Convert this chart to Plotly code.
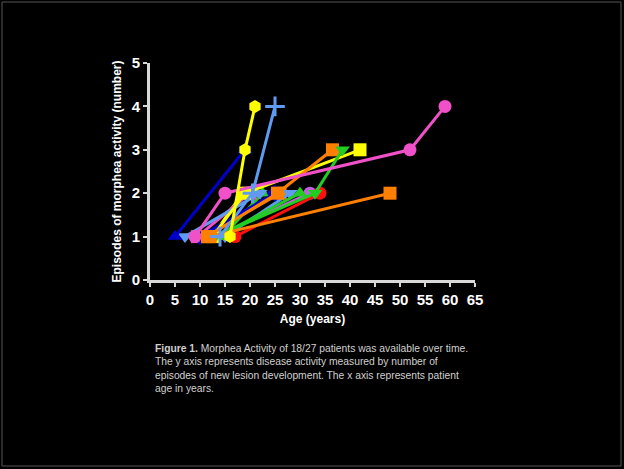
import plotly.graph_objects as go

# Patient series: age (years) vs episodes of morphea activity
series_names = [f"Patient {i}" for i in range(1, 19)]
ages = [
    [16, 19, 21],
    [14, 20.5, 25],
    [9, 15, 52, 59],
    [12, 48],
    [11.5, 25.5, 36.5],
    [12.5, 19, 42],
    [13, 33, 38.5],
    [17, 34],
    [13.5, 30],
    [10, 25],
    [5, 19],
    [7, 22],
    [9.5, 20],
    [14.5, 22.5],
    [13, 32],
    [12.5, 18.5],
    [15, 28],
    [11, 26],
]
episodes = [
    [1, 3, 4],
    [1, 2, 4],
    [1, 2, 3, 4],
    [1, 2],
    [1, 2, 3],
    [1, 2, 3],
    [1, 2, 3],
    [1, 2],
    [1, 2],
    [1, 2],
    [1, 3],
    [1, 2],
    [1, 2],
    [1, 2],
    [1, 2],
    [1, 2],
    [1, 2],
    [1, 2],
]
colors = [
    "#FFFF00", "#5F9BF0", "#F050C8", "#FF7F00", "#FF7F00", "#FFFF00",
    "#22CC22", "#FF1010", "#22CC22", "#0000CC", "#0000CC", "#5F9BF0",
    "#F050C8", "#22CC22", "#C060E0", "#FFFF00", "#5F9BF0", "#FF7F00",
]
symbols = [
    "hexagon", "cross-thin", "circle", "square", "square", "square",
    "triangle-down", "circle", "triangle-up", "diamond", "triangle-up", "triangle-down",
    "square", "triangle-up", "circle", "circle", "triangle-down", "square",
]
x_ticks = list(range(0, 70, 5))
y_ticks = [0, 1, 2, 3, 4, 5]

fig = go.Figure()
# draw back-to-front; green triangles sit over the orange squares
order = [17, 16, 15, 14, 13, 12, 11, 10, 9, 8, 7, 5, 4, 6, 3, 2, 1, 0]
for i in order:
    sym = symbols[i]
    fig.add_trace(go.Scatter(
        x=ages[i], y=episodes[i], name=series_names[i],
        mode="lines+markers",
        line=dict(color=colors[i], width=3),
        marker=dict(symbol=sym, size=13 if sym != "cross-thin" else 14,
                    color=colors[i],
                    line=dict(color=colors[i], width=3 if sym == "cross-thin" else 0)),
    ))

axis_col = "#D8D8D8"
tick_font = dict(size=15, color="white", family="Liberation Sans, Arial", weight="bold")
fig.update_layout(
    width=624, height=469,
    paper_bgcolor="black", plot_bgcolor="black",
    margin=dict(l=150, r=149, t=63, b=189),
    showlegend=False,
    font=dict(family="Liberation Sans, Arial, sans-serif", color="white"),
    xaxis=dict(
        range=[0, 65], tickvals=x_ticks, showgrid=False, zeroline=False,
        showline=True, linecolor=axis_col, linewidth=3,
        ticks="outside", tickcolor=axis_col, tickwidth=2, ticklen=4,
        tickfont=tick_font,
        title=dict(text="<b>Age (years)</b>", font=dict(size=12, color="white"), standoff=8),
    ),
    yaxis=dict(
        range=[0, 5], tickvals=y_ticks, showgrid=False, zeroline=False,
        showline=True, linecolor=axis_col, linewidth=3,
        ticks="outside", tickcolor=axis_col, tickwidth=2, ticklen=4,
        tickfont=tick_font,
        title=dict(text="<b>Episodes of morphea activity (number)</b>",
                   font=dict(size=12, color="white"), standoff=8),
    ),
)

caption = ("<b>Figure 1.</b> Morphea Activity of 18/27 patients was available over time.<br>"
           "The y axis represents disease activity measured by number of<br>"
           "episodes of new lesion development. The x axis represents patient<br>"
           "age in years.")
fig.add_annotation(
    text=caption, xref="paper", yref="paper",
    x=(153 - 150) / 325, y=(280 - 341) / 217,
    xanchor="left", yanchor="top", align="left", showarrow=False,
    font=dict(size=10.3, color="#D0D0D0", family="Liberation Sans, Arial"),
)

# thin grey frame around the slide
fig.add_shape(type="rect", xref="paper", yref="paper",
              x0=(2 - 150) / 325, x1=(621 - 150) / 325,
              y0=(280 - 466) / 217, y1=(280 - 2) / 217,
              line=dict(color="#555555", width=1))

fig.write_html("out.html", config={"displayModeBar": False},
               post_script="document.body.style.margin='0';")
